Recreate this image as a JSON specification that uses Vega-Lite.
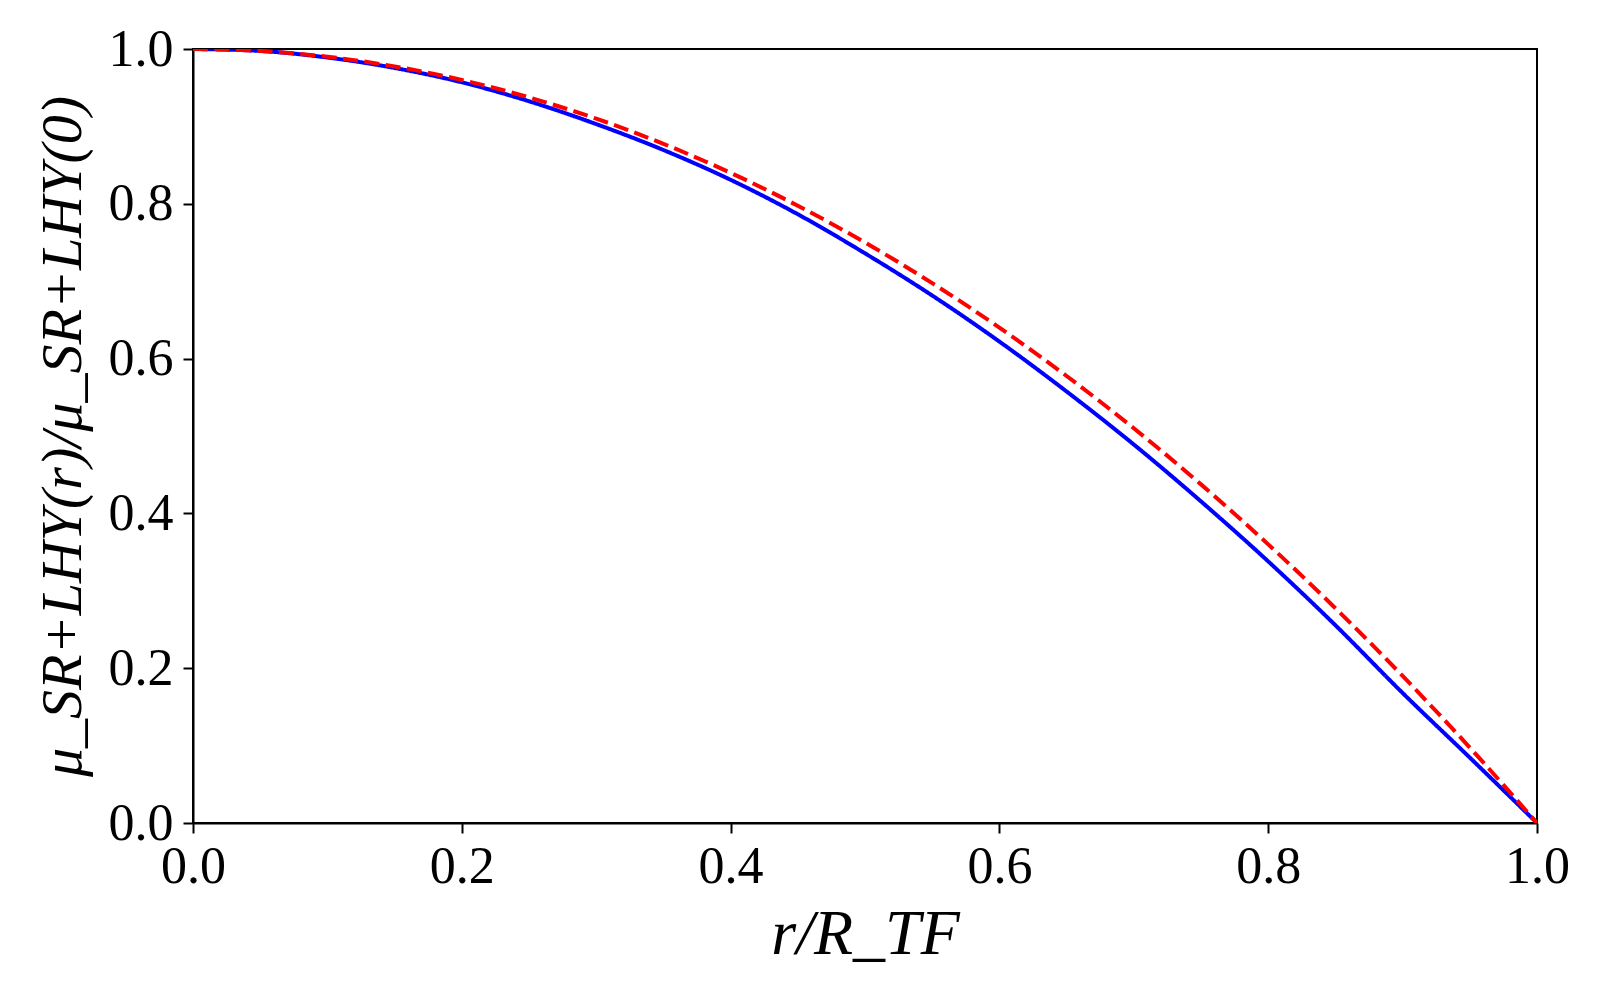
{
  "$schema": "https://vega.github.io/schema/vega-lite/v6.json",
  "width": 1344,
  "height": 774,
  "autosize": {"type": "none"},
  "padding": {"left": 193, "top": 49, "right": 63, "bottom": 177},
  "background": "white",
  "config": {
    "view": {"stroke": "black", "strokeWidth": 2},
    "axis": {
      "grid": false,
      "domainColor": "black",
      "domainWidth": 2,
      "tickColor": "black",
      "tickWidth": 2,
      "tickSize": 10,
      "labelFlush": false,
      "labelFont": "Liberation Serif",
      "labelFontSize": 52,
      "labelColor": "black",
      "titleFont": "Liberation Serif",
      "titleFontStyle": "italic",
      "titleFontWeight": "normal",
      "titleFontSize": 64,
      "titleColor": "black"
    }
  },
  "data": {
    "values": [
      {"r": 0.00, "mu": 1.0, "curve": "SR+LHY"},
      {"r": 0.05, "mu": 0.9975, "curve": "SR+LHY"},
      {"r": 0.10, "mu": 0.989, "curve": "SR+LHY"},
      {"r": 0.15, "mu": 0.9755, "curve": "SR+LHY"},
      {"r": 0.20, "mu": 0.957, "curve": "SR+LHY"},
      {"r": 0.25, "mu": 0.9325, "curve": "SR+LHY"},
      {"r": 0.30, "mu": 0.903, "curve": "SR+LHY"},
      {"r": 0.35, "mu": 0.8695, "curve": "SR+LHY"},
      {"r": 0.40, "mu": 0.831, "curve": "SR+LHY"},
      {"r": 0.45, "mu": 0.7865, "curve": "SR+LHY"},
      {"r": 0.50, "mu": 0.736, "curve": "SR+LHY"},
      {"r": 0.55, "mu": 0.6815, "curve": "SR+LHY"},
      {"r": 0.60, "mu": 0.622, "curve": "SR+LHY"},
      {"r": 0.65, "mu": 0.5575, "curve": "SR+LHY"},
      {"r": 0.70, "mu": 0.489, "curve": "SR+LHY"},
      {"r": 0.75, "mu": 0.4155, "curve": "SR+LHY"},
      {"r": 0.80, "mu": 0.338, "curve": "SR+LHY"},
      {"r": 0.85, "mu": 0.2555, "curve": "SR+LHY"},
      {"r": 0.90, "mu": 0.168, "curve": "SR+LHY"},
      {"r": 0.95, "mu": 0.0845, "curve": "SR+LHY"},
      {"r": 1.00, "mu": 0.0, "curve": "SR+LHY"},
      {"r": 0.00, "mu": 1.0, "curve": "TF"},
      {"r": 0.05, "mu": 0.9975, "curve": "TF"},
      {"r": 0.10, "mu": 0.990, "curve": "TF"},
      {"r": 0.15, "mu": 0.9775, "curve": "TF"},
      {"r": 0.20, "mu": 0.960, "curve": "TF"},
      {"r": 0.25, "mu": 0.9375, "curve": "TF"},
      {"r": 0.30, "mu": 0.910, "curve": "TF"},
      {"r": 0.35, "mu": 0.8775, "curve": "TF"},
      {"r": 0.40, "mu": 0.840, "curve": "TF"},
      {"r": 0.45, "mu": 0.7975, "curve": "TF"},
      {"r": 0.50, "mu": 0.750, "curve": "TF"},
      {"r": 0.55, "mu": 0.6975, "curve": "TF"},
      {"r": 0.60, "mu": 0.640, "curve": "TF"},
      {"r": 0.65, "mu": 0.5775, "curve": "TF"},
      {"r": 0.70, "mu": 0.510, "curve": "TF"},
      {"r": 0.75, "mu": 0.4375, "curve": "TF"},
      {"r": 0.80, "mu": 0.360, "curve": "TF"},
      {"r": 0.85, "mu": 0.2775, "curve": "TF"},
      {"r": 0.90, "mu": 0.190, "curve": "TF"},
      {"r": 0.95, "mu": 0.0975, "curve": "TF"},
      {"r": 1.00, "mu": 0.0, "curve": "TF"}
    ]
  },
  "mark": {"type": "line", "strokeWidth": 4, "interpolate": "monotone", "clip": true},
  "encoding": {
    "x": {
      "field": "r",
      "type": "quantitative",
      "scale": {"domain": [0, 1], "nice": false, "zero": false},
      "axis": {
        "title": "r/R_TF",
        "values": [0, 0.2, 0.4, 0.6, 0.8, 1.0],
        "format": ".1f",
        "labelPadding": 8,
        "titlePadding": 10
      }
    },
    "y": {
      "field": "mu",
      "type": "quantitative",
      "scale": {"domain": [0, 1], "nice": false, "zero": false},
      "axis": {
        "title": "μ_SR+LHY(r)/μ_SR+LHY(0)",
        "titleFontSize": 58,
        "values": [0, 0.2, 0.4, 0.6, 0.8, 1.0],
        "format": ".1f",
        "labelPadding": 10,
        "titlePadding": 16
      }
    },
    "color": {
      "field": "curve",
      "type": "nominal",
      "scale": {"domain": ["SR+LHY", "TF"], "range": ["#0000ff", "#ff0000"]},
      "legend": null
    },
    "strokeDash": {
      "field": "curve",
      "type": "nominal",
      "scale": {"domain": ["SR+LHY", "TF"], "range": [[1, 0], [15, 6.5]]},
      "legend": null
    }
  }
}
